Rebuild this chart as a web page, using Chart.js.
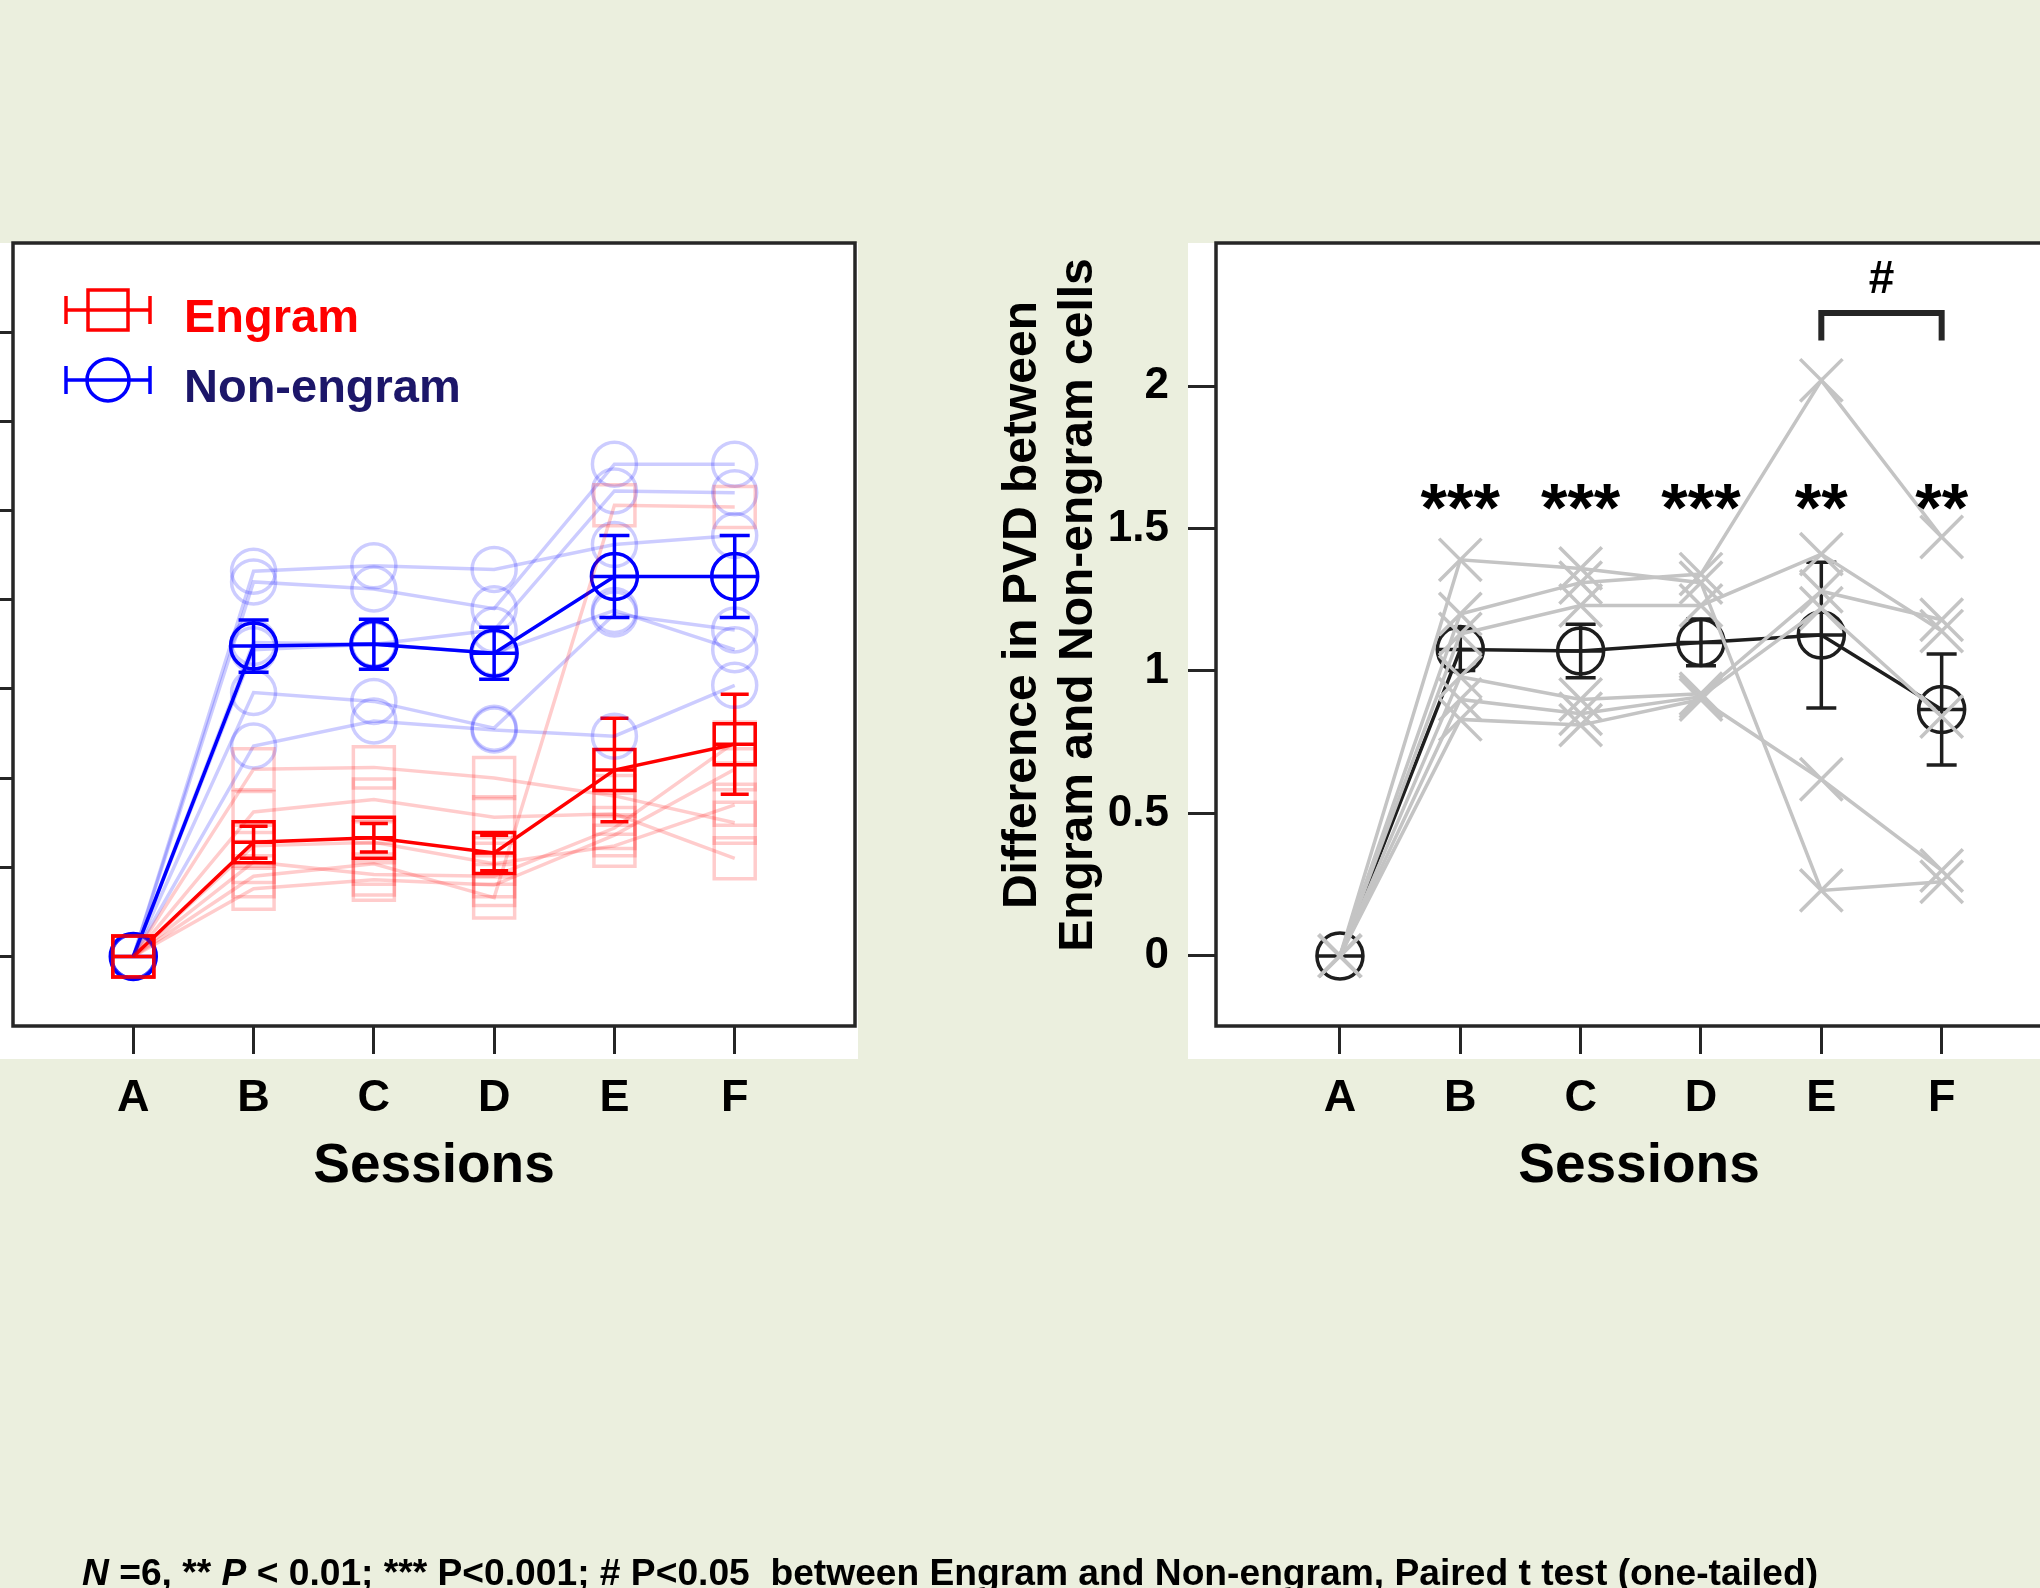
<!DOCTYPE html>
<html>
<head>
<meta charset="utf-8">
<script src="https://cdn.jsdelivr.net/npm/chart.js@4.4.1/dist/chart.umd.min.js"></script>
<style>
  html, body { margin: 0; padding: 0; background: #ebefde; overflow: hidden; }
  #wrap { position: relative; width: 2040px; height: 1588px; overflow: hidden; background: #ebefde; }
  canvas { position: absolute; top: 0; }
  #leftCanvas { left: 0; }
  #rightCanvas { left: 900px; }
  #note {
    position: absolute; left: 82px; top: 1554px;
    font: bold 37.2px 'Liberation Sans', Arial, sans-serif; line-height: 37px;
    white-space: pre; color: #000;
  }
</style>
</head>
<body>
<div id="wrap">
  <canvas id="leftCanvas" width="900" height="1588"></canvas>
  <canvas id="rightCanvas" width="1300" height="1588"></canvas>
  <div id="note"><i>N</i> =6, ** <i>P</i> &lt; 0.01; *** P&lt;0.001; # P&lt;0.05  between Engram and Non-engram, Paired t test (one-tailed)</div>
</div>
<script>
// ---- data ----
const sessions = ['A', 'B', 'C', 'D', 'E', 'F'];

// PVD per group: mean ± SEM and individual mice
const engramMean    = [0, 0.64, 0.665, 0.58, 1.045, 1.19];
const engramSem     = [0, 0.09, 0.08, 0.10, 0.29, 0.28];
const nonEngramMean = [0, 1.74, 1.75, 1.70, 2.13, 2.13];
const nonEngramSem  = [0, 0.146, 0.14, 0.146, 0.23, 0.23];
const engramMice = [
  [0, 1.05, 1.06, 1.00, 0.90, 0.75],
  [0, 0.81, 0.88, 0.78, 0.80, 0.55],
  [0, 0.45, 0.52, 0.33, 2.53, 2.52],
  [0, 0.53, 0.46, 0.45, 0.72, 1.20],
  [0, 0.38, 0.43, 0.40, 0.68, 1.05],
  [0, 0.62, 0.64, 0.52, 0.62, 0.85]
];
const nonEngramMice = [
  [0, 2.16, 2.19, 2.17, 2.31, 2.36],
  [0, 2.10, 2.06, 1.95, 2.76, 2.76],
  [0, 1.72, 1.75, 1.83, 2.61, 2.60],
  [0, 1.48, 1.43, 1.28, 1.92, 1.83],
  [0, 1.18, 1.32, 1.27, 1.235, 1.52],
  [0, 1.76, 1.75, 1.70, 1.94, 1.72]
];
const pvdTicks = [0, 0.5, 1, 1.5, 2, 2.5, 3, 3.5];

// Difference (Non-engram − Engram): mean ± SEM and individual mice
const diffMean = [0, 1.075, 1.07, 1.10, 1.126, 0.865];
const diffSem  = [0, 0.073, 0.094, 0.082, 0.256, 0.195];
const diffMice = [
  [0, 1.20, 1.31, 1.34, 2.02, 1.47],
  [0, 1.39, 1.36, 1.31, 0.23, 0.26],
  [0, 1.13, 1.23, 1.23, 1.41, 1.14],
  [0, 0.98, 0.90, 0.92, 1.28, 1.18],
  [0, 0.90, 0.85, 0.91, 1.22, 0.84],
  [0, 0.83, 0.81, 0.90, 0.62, 0.30]
];
const diffTicks = [0, 0.5, 1, 1.5, 2];
const diffStars = ['', '***', '***', '***', '**', '**'];
const sessionPair = { from: 4, to: 5, mark: '#' };
const diffTitle = ['Difference in PVD between', 'Engram and Non-engram cells'];

// ---- helpers ----
const FONT = "'Liberation Sans', Arial, Helvetica, sans-serif";
const INK = '#262626';
const pts = arr => arr.map((v, i) => ({ x: i, y: v }));

function sessionAxis(min, max) {
  return {
    type: 'linear', min, max,
    afterBuildTicks: s => { s.ticks = sessions.map((_, i) => ({ value: i })); },
    afterFit: s => { s.height = 174; s.paddingLeft = 0; s.paddingRight = 0; },
    border: { display: false },
    grid: { drawOnChartArea: false, drawTicks: true, tickLength: 28, tickWidth: 3, tickColor: INK },
    ticks: {
      callback: v => sessions[v], autoSkip: false, maxRotation: 0, padding: 18,
      color: '#000', font: { family: FONT, size: 45, weight: 'bold' }
    },
    title: { display: true, text: 'Sessions', color: '#000', padding: 0,
             font: { family: FONT, size: 55, weight: 'bold' } }
  };
}

// white plot panel behind the axes, plus the box frame
const panelPlugin = {
  id: 'panel',
  beforeDraw(chart, args, o) {
    const { ctx, chartArea: a } = chart;
    ctx.save();
    ctx.fillStyle = '#ffffff';
    ctx.fillRect(a.left - o.padLeft, a.top, a.right - a.left + o.padLeft + o.padRight,
                 a.bottom - a.top + o.padBottom);
    ctx.restore();
  },
  afterDraw(chart) {
    const { ctx, chartArea: a } = chart;
    ctx.save();
    ctx.strokeStyle = INK;
    ctx.lineWidth = 3.5;
    ctx.strokeRect(a.left, a.top, a.right - a.left, a.bottom - a.top);
    ctx.restore();
  }
};

// vertical SEM bars with caps and a cross line through each mean marker
const errorBarPlugin = {
  id: 'errorBars',
  afterDatasetDraw(chart, args) {
    const ds = chart.data.datasets[args.index];
    if (!ds.sem) return;
    const ctx = chart.ctx, ys = chart.scales.y;
    ctx.save();
    ctx.strokeStyle = ds.borderColor;
    ctx.lineWidth = 3.5;
    args.meta.data.forEach((el, i) => {
      const m = ds.data[i].y, e = ds.sem[i];
      ctx.beginPath();
      ctx.moveTo(el.x - ds.crossHalf, el.y);
      ctx.lineTo(el.x + ds.crossHalf, el.y);
      if (e > 0) {
        const t = ys.getPixelForValue(m + e), b = ys.getPixelForValue(m - e);
        ctx.moveTo(el.x, t); ctx.lineTo(el.x, b);
        ctx.moveTo(el.x - ds.capHalf, t); ctx.lineTo(el.x + ds.capHalf, t);
        ctx.moveTo(el.x - ds.capHalf, b); ctx.lineTo(el.x + ds.capHalf, b);
      }
      ctx.stroke();
    });
    ctx.restore();
  }
};

// legend in the top-left corner of the PVD panel
const groupLegendPlugin = {
  id: 'groupLegend',
  afterDraw(chart, args, o) {
    const { ctx, chartArea: a } = chart;
    const groups = chart.data.datasets.filter(d => d.sem);
    groups.forEach((d, k) => {
      const cx = a.left + 95, cy = a.top + 67 + k * 70;
      ctx.save();
      ctx.strokeStyle = d.borderColor;
      ctx.lineWidth = 3.5;
      ctx.beginPath();
      ctx.moveTo(cx - 42, cy); ctx.lineTo(cx + 42, cy);
      ctx.moveTo(cx - 42, cy - 14); ctx.lineTo(cx - 42, cy + 14);
      ctx.moveTo(cx + 42, cy - 14); ctx.lineTo(cx + 42, cy + 14);
      ctx.stroke();
      ctx.beginPath();
      if (d.pointStyle === 'rect') ctx.rect(cx - 20, cy - 20, 40, 40);
      else ctx.arc(cx, cy, 21, 0, Math.PI * 2);
      ctx.stroke();
      ctx.fillStyle = o.textColors[k];
      ctx.font = `bold 47px ${FONT}`;
      ctx.textBaseline = 'alphabetic';
      ctx.textAlign = 'left';
      ctx.fillText(d.label, a.left + 171, cy + 22);
      ctx.restore();
    });
  }
};

// significance marks, bracket and the two-line y title of the difference panel
const sigPlugin = {
  id: 'sigMarks',
  afterDraw(chart) {
    const { ctx, chartArea: a, scales: { x, y } } = chart;
    ctx.save();
    ctx.fillStyle = '#000';
    ctx.textAlign = 'center';
    ctx.textBaseline = 'alphabetic';
    ctx.font = `bold 68px ${FONT}`;
    diffStars.forEach((s, i) => {
      if (s) ctx.fillText(s, x.getPixelForValue(i), y.getPixelForValue(1.49));
    });
    const x1 = x.getPixelForValue(sessionPair.from), x2 = x.getPixelForValue(sessionPair.to);
    const yTop = y.getPixelForValue(2.256), yLeg = y.getPixelForValue(2.16);
    ctx.strokeStyle = INK;
    ctx.lineWidth = 6;
    ctx.lineJoin = 'miter';
    ctx.beginPath();
    ctx.moveTo(x1, yLeg); ctx.lineTo(x1, yTop); ctx.lineTo(x2, yTop); ctx.lineTo(x2, yLeg);
    ctx.stroke();
    ctx.font = `bold 46px ${FONT}`;
    ctx.fillText(sessionPair.mark, (x1 + x2) / 2, y.getPixelForValue(2.326));

    ctx.font = `bold 48px ${FONT}`;
    ctx.textBaseline = 'middle';
    diffTitle.forEach((line, k) => {
      ctx.save();
      ctx.translate(a.left - 193 + k * 56, a.top + 362);
      ctx.rotate(-Math.PI / 2);
      ctx.fillText(line, 0, 0);
      ctx.restore();
    });
    ctx.restore();
  }
};

// ---- PVD panel ----
const series = (data, color, style, r, w) => ({
  data: pts(data), borderColor: color, borderWidth: w,
  pointStyle: style, pointRadius: r, pointBorderColor: color, pointBorderWidth: w,
  pointBackgroundColor: 'rgba(0,0,0,0)', pointHoverRadius: r
});

const pvdSets = [
  ...engramMice.map(m => series(m, 'rgba(255,0,0,0.2)', 'rect', 29, 3.5)),
  ...nonEngramMice.map(m => series(m, 'rgba(0,0,255,0.2)', 'circle', 22, 3.5)),
  Object.assign(series(engramMean, '#ff0000', 'rect', 29, 3.5),
    { label: 'Engram', sem: engramSem, capHalf: 14, crossHalf: 20 }),
  Object.assign(series(nonEngramMean, '#0000ff', 'circle', 23, 3.5),
    { label: 'Non-engram', sem: nonEngramSem, capHalf: 15, crossHalf: 23 })
];

new Chart(document.getElementById('leftCanvas'), {
  type: 'line',
  data: { datasets: pvdSets },
  options: {
    responsive: false, animation: false, devicePixelRatio: 1,
    layout: { autoPadding: false, padding: { left: 0, top: 243, right: 45, bottom: 388 } },
    plugins: {
      legend: { display: false }, tooltip: { enabled: false },
      panel: { padLeft: 13, padRight: 3, padBottom: 33 },
      groupLegend: { textColors: ['#ff0000', '#1c1669'] }
    },
    scales: {
      x: sessionAxis(-1, 6),
      y: {
        type: 'linear', min: -0.39, max: 4.0,
        afterBuildTicks: s => { s.ticks = pvdTicks.map(v => ({ value: v })); },
        afterFit: s => { s.width = 13; },
        border: { display: false },
        grid: { drawOnChartArea: false, tickLength: 13, tickWidth: 3, tickColor: INK },
        ticks: { display: false }
      }
    }
  },
  plugins: [panelPlugin, errorBarPlugin, groupLegendPlugin]
});

// ---- Difference panel ----
const diffSets = [
  ...diffMice.map(m => series(m, '#c4c4c4', 'crossRot', 30, 3.5)),
  Object.assign(series(diffMean, '#1e1e1e', 'circle', 23, 3.5),
    { label: 'Difference', sem: diffSem, capHalf: 15, crossHalf: 23 })
];

new Chart(document.getElementById('rightCanvas'), {
  type: 'line',
  data: { datasets: diffSets },
  options: {
    responsive: false, animation: false, devicePixelRatio: 1,
    layout: { autoPadding: false, padding: { left: 93, top: 243, right: 138, bottom: 388 } },
    plugins: {
      legend: { display: false }, tooltip: { enabled: false },
      panel: { padLeft: 28, padRight: 0, padBottom: 33 }
    },
    scales: {
      x: sessionAxis(-1.03, 6),
      y: {
        type: 'linear', min: -0.246, max: 2.502,
        afterBuildTicks: s => { s.ticks = diffTicks.map(v => ({ value: v })); },
        afterFit: s => { s.width = 223; },
        border: { display: false },
        grid: { drawOnChartArea: false, tickLength: 28, tickWidth: 3, tickColor: INK },
        ticks: {
          padding: 19, color: '#000', callback: v => String(v),
          font: { family: FONT, size: 44, weight: 'bold' }
        }
      }
    }
  },
  plugins: [panelPlugin, errorBarPlugin, sigPlugin]
});
</script>
</body>
</html>
